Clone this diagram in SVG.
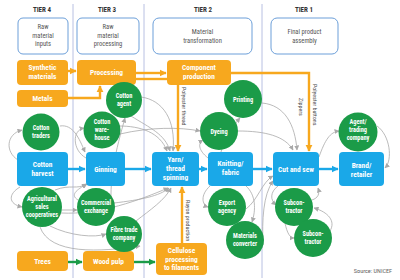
<svg xmlns="http://www.w3.org/2000/svg" width="400" height="280" viewBox="0 0 400 280">
<defs>
<style>
text{font-family:"Liberation Sans Narrow","Roboto Condensed","DejaVu Sans Condensed","Liberation Sans",sans-serif;text-anchor:middle}
.tier{font-size:7px;font-weight:bold;fill:#333}
.hdr{fill:#fff;stroke:#6c9fd9;stroke-width:1}
.ht{font-size:6.6px;fill:#555}
.ob{fill:#f7a81e}
.bb{fill:#1aa8e8}
.gc{fill:#1b9b48}
.wt{font-size:7.4px;font-weight:bold;fill:#fff}
.ct{font-size:6.3px;font-weight:bold;fill:#fff}
.lbl{font-size:6px;fill:#444;text-anchor:start}
.col{stroke:#b8c0e2;stroke-width:1}
.gl{fill:none;stroke:#a9a9a9;stroke-width:0.8;marker-end:url(#ag)}
.ol{fill:none;stroke:#f7a81e;stroke-width:2.4}
.blu{fill:none;stroke:#1aa8e8;stroke-width:2.4;marker-end:url(#ab)}
.grn{fill:none;stroke:#1b9b48;stroke-width:2.4;marker-end:url(#agr)}
</style>
<marker id="ag" viewBox="0 0 10 10" refX="9" refY="5" markerWidth="5" markerHeight="5" orient="auto" markerUnits="userSpaceOnUse"><path d="M0,0L10,5L0,10z" fill="#a9a9a9"/></marker>
<marker id="ab" viewBox="0 0 10 10" refX="9" refY="5" markerWidth="3" markerHeight="3" orient="auto"><path d="M0,0L10,5L0,10z" fill="#1aa8e8"/></marker>
<marker id="ao" viewBox="0 0 10 10" refX="9" refY="5" markerWidth="3" markerHeight="3" orient="auto"><path d="M0,0L10,5L0,10z" fill="#f7a81e"/></marker>
<marker id="agr" viewBox="0 0 10 10" refX="9" refY="5" markerWidth="3" markerHeight="3" orient="auto"><path d="M0,0L10,5L0,10z" fill="#1b9b48"/></marker>
</defs>
<rect width="400" height="280" fill="#fff"/>
<g id="columns">
<line class="col" x1="73" y1="4" x2="73" y2="278"/>
<line class="col" x1="144" y1="4" x2="144" y2="278"/>
<line class="col" x1="262" y1="4" x2="262" y2="278"/>
</g>
<g id="tiers">
<text class="tier" x="42" y="12">TIER 4</text>
<text class="tier" x="107" y="12">TIER 3</text>
<text class="tier" x="203" y="12">TIER 2</text>
<text class="tier" x="304" y="12">TIER 1</text>
</g>
<g id="headers">
<g id="h4"><rect class="hdr" x="18" y="18" width="50" height="36" rx="5"/><text class="ht" x="43" y="29">Raw</text><text class="ht" x="43" y="37.5">material</text><text class="ht" x="43" y="46">inputs</text></g>
<g id="h3"><rect class="hdr" x="77" y="18" width="62" height="36" rx="5"/><text class="ht" x="108" y="29">Raw</text><text class="ht" x="108" y="37.5">material</text><text class="ht" x="108" y="46">processing</text></g>
<g id="h2"><rect class="hdr" x="153" y="18" width="99" height="36" rx="6"/><text class="ht" x="202.5" y="34">Material</text><text class="ht" x="202.5" y="42.5">transformation</text></g>
<g id="h1"><rect class="hdr" x="271" y="18" width="67" height="36" rx="6"/><text class="ht" x="304.5" y="34">Final product</text><text class="ht" x="304.5" y="42.5">assembly</text></g>
</g>
<g id="connectors">
<path class="gl" d="M18,160 C5,152 6,134 22,130"/>
<path class="gl" d="M60,126 C73,124 79,138 85,152"/>
<path class="gl" d="M86,158 C72,150 72,130 84,128"/>
<path class="gl" d="M119,126 C140,126 160,132 167,151"/>
<path class="gl" d="M131,116 C150,128 165,134 170,151"/>
<path class="gl" d="M141,97 C163,100 176,120 173,151"/>
<path class="gl" d="M120,134 C150,127 180,127 200,131"/>
<path class="gl" d="M112,215 C108,180 116,150 125,118"/>
<path class="gl" d="M20,187 C8,194 8,204 22,207"/>
<path class="gl" d="M55,190 C70,184 78,190 86,184"/>
<path class="gl" d="M61,213 C100,215 140,200 168,188"/>
<path class="gl" d="M114,203 C140,200 160,196 169,188"/>
<path class="gl" d="M136,221 C150,210 165,200 171,188"/>
<path class="gl" d="M50,226 C70,236 95,238 106,234"/>
<path class="gl" d="M62,210 L77,210"/>
<path class="gl" d="M78,200 C70,195 76,190 87,184"/>
<path class="gl" d="M40,227 C50,255 100,252 140,246"/>
<path class="gl" d="M208,158 C198,150 198,143 203,140"/>
<path class="gl" d="M221,152 C225,135 234,125 240,118"/>
<path class="gl" d="M262,103 C285,105 295,125 297,150"/>
<path class="gl" d="M238,131 C265,131 285,136 293,150"/>
<path class="gl" d="M210,186 C200,195 202,205 208,207"/>
<path class="gl" d="M246,186 C256,195 256,210 252,222"/>
<path class="gl" d="M246,209 C258,200 262,182 273,176"/>
<path class="gl" d="M263,245 C262,220 263,195 273,181"/>
<path class="gl" d="M278,186 C270,192 270,200 276,205"/>
<path class="gl" d="M312,200 C318,198 320,194 318,188"/>
<path class="gl" d="M285,223 C287,233 290,238 294,238"/>
<path class="gl" d="M330,231 C336,221 328,212 314,208"/>
<path class="gl" d="M319,157 C325,140 330,132 339,131"/>
<path class="gl" d="M377,126 C390,135 393,160 385,168"/>
<line class="ol" x1="68" y1="71" x2="76" y2="71" marker-end="url(#ao)"/>
<path class="ol" d="M68,98 H100 V86" marker-end="url(#ao)"/>
<line class="ol" x1="136" y1="73" x2="166" y2="73" marker-end="url(#ao)"/>
<line class="ol" x1="136" y1="79" x2="167" y2="79"/>
<line class="ol" x1="178" y1="85" x2="178" y2="151" marker-end="url(#ao)"/>
<path class="ol" d="M231,73 H309 V151" marker-end="url(#ao)"/>
<line class="ol" x1="182" y1="243" x2="182" y2="187" marker-end="url(#ao)"/>
<line class="blu" x1="68" y1="169" x2="85" y2="169"/>
<line class="blu" x1="125" y1="169" x2="151" y2="169"/>
<line class="blu" x1="199" y1="169" x2="207" y2="169"/>
<line class="blu" x1="253" y1="169" x2="272" y2="169"/>
<line class="blu" x1="319" y1="169" x2="338" y2="169"/>
<line class="grn" x1="68" y1="262" x2="82" y2="262"/>
<line class="grn" x1="134" y1="262" x2="155" y2="262"/>
<text class="lbl" transform="translate(182,87) rotate(90)">Polyester thread</text>
<text class="lbl" transform="translate(313,84) rotate(90)">Polyester buttons</text>
<text class="lbl" transform="translate(299,98) rotate(90)">Zippers</text>
<text class="lbl" transform="translate(186,200) rotate(90)">Rayon production</text>
</g>
<g id="n-synthetic"><rect class="ob" x="17" y="60" width="51" height="25" rx="4"/><text class="wt" x="42.5" y="70">Synthetic</text><text class="wt" x="42.5" y="79">materials</text></g>
<g id="n-metals"><rect class="ob" x="17" y="90" width="51" height="17" rx="4"/><text class="wt" x="42.5" y="101">Metals</text></g>
<g id="n-processing"><rect class="ob" x="77" y="60" width="59" height="25" rx="4"/><text class="wt" x="106.5" y="75">Processing</text></g>
<g id="n-component"><rect class="ob" x="167" y="60" width="64" height="25" rx="4"/><text class="wt" x="199" y="70">Component</text><text class="wt" x="199" y="79">production</text></g>
<g id="n-trees"><rect class="ob" x="17" y="251" width="51" height="20" rx="4"/><text class="wt" x="42.5" y="264">Trees</text></g>
<g id="n-woodpulp"><rect class="ob" x="83" y="251" width="51" height="20" rx="4"/><text class="wt" x="108.5" y="264">Wood pulp</text></g>
<g id="n-cellulose"><rect class="ob" x="156" y="243" width="51" height="32" rx="4"/><text class="wt" x="181.5" y="253">Cellulose</text><text class="wt" x="181.5" y="261.5">processing</text><text class="wt" x="181.5" y="270">to filaments</text></g>
<g id="n-harvest"><rect class="bb" x="17" y="152" width="51" height="34" rx="4"/><text class="wt" x="42.5" y="167">Cotton</text><text class="wt" x="42.5" y="176">harvest</text></g>
<g id="n-ginning"><rect class="bb" x="86" y="152" width="39" height="34" rx="4"/><text class="wt" x="105.5" y="171.5">Ginning</text></g>
<g id="n-yarn"><rect class="bb" x="152" y="152" width="47" height="34" rx="4"/><text class="wt" x="175.5" y="162">Yarn/</text><text class="wt" x="175.5" y="171">thread</text><text class="wt" x="175.5" y="180">spinning</text></g>
<g id="n-knitting"><rect class="bb" x="208" y="152" width="45" height="34" rx="4"/><text class="wt" x="230.5" y="166">Knitting/</text><text class="wt" x="230.5" y="175">fabric</text></g>
<g id="n-cutsew"><rect class="bb" x="273" y="152" width="46" height="34" rx="4"/><text class="wt" x="296" y="171.5">Cut and sew</text></g>
<g id="n-brand"><rect class="bb" x="339" y="152" width="45" height="34" rx="4"/><text class="wt" x="361.5" y="168">Brand/</text><text class="wt" x="361.5" y="177">retailer</text></g>
<g id="n-agent"><circle class="gc" cx="124" cy="100" r="18"/><text class="ct" x="124" y="98">Cotton</text><text class="ct" x="124" y="106">agent</text></g>
<g id="n-traders"><circle class="gc" cx="41" cy="132" r="18.5"/><text class="ct" x="41" y="130">Cotton</text><text class="ct" x="41" y="138">traders</text></g>
<g id="n-warehouse"><circle class="gc" cx="102" cy="130" r="18.5"/><text class="ct" x="102" y="124">Cotton</text><text class="ct" x="102" y="132">ware-</text><text class="ct" x="102" y="140">house</text></g>
<g id="n-coop"><circle class="gc" cx="42" cy="207" r="20"/><text class="ct" x="42" y="201">Agricultural</text><text class="ct" x="42" y="209">sales</text><text class="ct" x="42" y="217">cooperatives</text></g>
<g id="n-commercial"><circle class="gc" cx="96" cy="207" r="19"/><text class="ct" x="96" y="205">Commercial</text><text class="ct" x="96" y="213">exchange</text></g>
<g id="n-fibre"><circle class="gc" cx="124" cy="234" r="18"/><text class="ct" x="124" y="232">Fibre trade</text><text class="ct" x="124" y="240">company</text></g>
<g id="n-printing"><circle class="gc" cx="243" cy="99" r="19"/><text class="ct" x="243" y="101.5">Printing</text></g>
<g id="n-dyeing"><circle class="gc" cx="219" cy="131" r="19"/><text class="ct" x="219" y="133.5">Dyeing</text></g>
<g id="n-trading"><circle class="gc" cx="358" cy="132" r="19.5"/><text class="ct" x="358" y="124">Agent/</text><text class="ct" x="358" y="132">trading</text><text class="ct" x="358" y="140">company</text></g>
<g id="n-export"><circle class="gc" cx="227" cy="207" r="19"/><text class="ct" x="227" y="205">Export</text><text class="ct" x="227" y="213">agency</text></g>
<g id="n-converter"><circle class="gc" cx="245" cy="240" r="19"/><text class="ct" x="245" y="238">Materials</text><text class="ct" x="245" y="246">converter</text></g>
<g id="n-sub1"><circle class="gc" cx="294" cy="207" r="19"/><text class="ct" x="294" y="205">Subcon-</text><text class="ct" x="294" y="213">tractor</text></g>
<g id="n-sub2"><circle class="gc" cx="313" cy="238" r="19"/><text class="ct" x="313" y="236">Subcon-</text><text class="ct" x="313" y="244">tractor</text></g>
<text x="392" y="273" style="font-size:6.2px;fill:#666;text-anchor:end">Source: UNICEF</text>
</svg>
